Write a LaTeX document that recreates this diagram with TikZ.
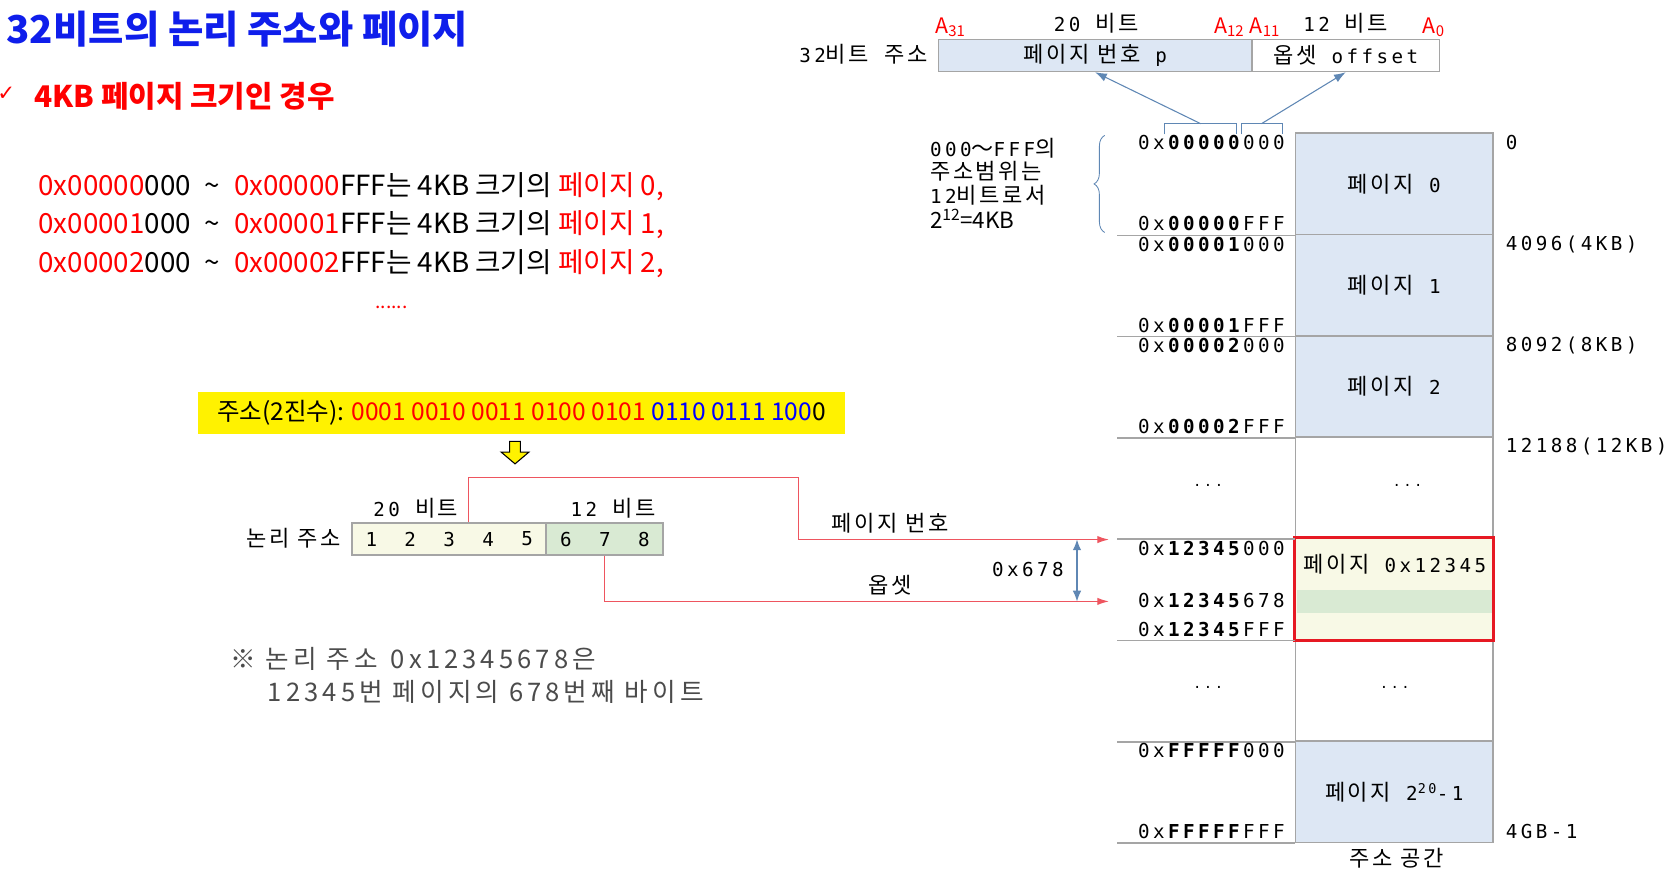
\documentclass[tikz,border=0pt]{standalone}
\usepackage{fontspec}
\setmainfont{Noto Sans CJK KR}
\newfontfamily\mono{DejaVu Sans Mono}[LetterSpace=18]
\newfontfamily\krs{Noto Sans CJK KR}[Scale=1.15,LetterSpace=12]
\newfontfamily\krn{Noto Sans CJK KR}[LetterSpace=16]
\newfontfamily\symb{DejaVu Sans}
\usetikzlibrary{calc,arrows.meta,decorations.pathreplacing}

\definecolor{pgblue}{RGB}{221,231,244}
\definecolor{pgyellow}{RGB}{248,249,230}
\definecolor{pggreen}{RGB}{217,234,211}
\definecolor{cellgray}{RGB}{165,165,165}
\definecolor{steel}{RGB}{95,135,180}
\definecolor{ttlblue}{RGB}{15,30,235}
\definecolor{lnred}{RGB}{238,85,95}
\definecolor{hlred}{RGB}{230,25,35}
\definecolor{notegray}{RGB}{75,75,75}

\tikzset{
  mtxt/.style={font=\mono\fontsize{18}{21}\selectfont, inner sep=0pt},
  adr/.style={mtxt, anchor=east},
  offs/.style={mtxt, anchor=west},
  dots/.style={font=\mono\fontsize{13}{15}\selectfont, inner sep=0pt},
  page/.style={mtxt, draw=cellgray, line width=1.5pt, minimum width=185pt, minimum height=95pt},
  sep/.style={draw=cellgray, line width=1.5pt},
  field/.style={mtxt, draw=cellgray, line width=1.5pt, minimum height=30pt},
  alab/.style={text=red, font=\fontsize{20}{22}\selectfont, inner sep=0pt, anchor=base west},
  rng/.style={font=\fontsize{26}{30}\selectfont, inner sep=0pt, anchor=west},
  redline/.style={draw=lnred, line width=1.2pt, -{Latex[length=11pt,width=7pt]}},
  bluearrow/.style={draw=steel, line width=1pt, -{Latex[length=11pt,width=8pt]}},
}
\newcommand{\adr}[2]{0x\textbf{#1}#2}

\begin{document}
\begin{tikzpicture}[x=1pt,y=-1pt]
\useasboundingbox (0,0) rectangle (1568,818);

% titles
\node[anchor=west, inner sep=0pt, text=ttlblue, font=\bfseries\fontsize{36}{42}\selectfont] (title) at (6,27) {32비트의 논리 주소와 페이지};
\node[text=red, inner sep=0pt, font=\symb\fontsize{20}{22}\selectfont] (tick) at (6,88) {✓};
\node[anchor=west, inner sep=0pt, text=red, font=\bfseries\fontsize{28}{32}\selectfont] (subttl) at (32,90) {4KB 페이지 크기인 경우};

\node[rng] (rng0) at (36,175) {\textcolor{red}{0x00000}000\enspace\textasciitilde\enspace\textcolor{red}{0x00000}FFF는 4KB 크기의 \textcolor{red}{페이지 0,}};
\node[rng] (rng1) at (36,211) {\textcolor{red}{0x00001}000\enspace\textasciitilde\enspace\textcolor{red}{0x00001}FFF는 4KB 크기의 \textcolor{red}{페이지 1,}};
\node[rng] (rng2) at (36,247) {\textcolor{red}{0x00002}000\enspace\textasciitilde\enspace\textcolor{red}{0x00002}FFF는 4KB 크기의 \textcolor{red}{페이지 2,}};
\node[text=red, inner sep=0pt, font=\fontsize{18}{20}\selectfont] (more) at (367,288) {......};

% binary address
\node[fill=yellow, minimum width=606pt, minimum height=39pt, inner sep=0pt, font=\fontsize{23}{28}\selectfont] (bin) at (489,387.5)
  {주소(2진수): \textcolor{red}{0001 0010 0011 0100 0101} \textcolor{blue}{0110 0111 100}0};
\draw[line width=1pt, fill=yellow, line join=miter] (478,414) -- (488,414) -- (488,424) -- (496,424) -- (483,435) -- (470,424) -- (478,424) -- cycle;

% logical address
\node[field, fill=pgyellow, minimum width=182pt] (lpage) at (421,505.5) {};
\node[field, fill=pggreen, minimum width=110pt] (loff) at (567,505.5) {};
\foreach \i in {1,...,8}
  \node[mtxt] (n\i) at ({330+36.5*(\i-0.5)},505.5) {\i};
\node[mtxt, anchor=east] (laddr) at (320,505) {\krs 논리 주소};
\node[mtxt] (l20) at (390,477) {20 {\krs 비트}};
\node[mtxt] (l12) at (575,477) {12 {\krs 비트}};

% top 32 bit fields
\node[mtxt, anchor=east] (a32) at (870,51) {32{\krs 비트} {\krs 주소}};
\node[field, fill=pgblue, minimum width=294pt] (pbox) at (1027,52) {{\krs 페이지 번호} p};
\node[field, fill=white, minimum width=176pt] (obox) at (1262,52) {{\krs 옵셋} offset};
\node[mtxt] (t20) at (1028,22) {20 {\krs 비트}};
\node[mtxt] (t12) at (1262,22) {12 {\krs 비트}};
\node[alab] (a31) at (877,31) {A\textsubscript{31}};
\node[alab, anchor=base east] (a12) at (1167,31) {A\textsubscript{12}};
\node[alab] (a11) at (1172,31) {A\textsubscript{11}};
\node[alab, anchor=base east] (a0) at (1355,31) {A\textsubscript{0}};

% address space
\node[page, fill=pgblue] (pg0) at (1307.5,172.5) {{\krs 페이지} 0};
\node[page, fill=pgblue] (pg1) at (1307.5,267.5) {{\krs 페이지} 1};
\node[page, fill=pgblue] (pg2) at (1307.5,362.5) {{\krs 페이지} 2};
\node[page] (gap1) at (1307.5,457.5) {};
\node[page, fill=pgyellow] (pgx) at (1307.5,552.5) {};
\fill[pggreen] (1216,553) rectangle (1399,575);
\node[page] (gap2) at (1307.5,647.5) {};
\node[page, fill=pgblue] (pglast) at (1307.5,742.5) {{\krs 페이지} 2\textsuperscript{20}-1};
\draw[hlred, line width=3pt] (pgx.north west) rectangle (pgx.south east);
\node[mtxt] (pgxlbl) at (1308,529) {{\krs 페이지} 0x12345};
\node[dots] (dots1) at (1320,455) {...};
\node[dots] (dots2) at (1308,645) {...};
\node[dots] (dots3) at (1133,455) {...};
\node[dots] (dots4) at (1133,645) {...};
\foreach \n in {pg0,pg1,pg2,gap1,pgx,gap2,pglast}
  \draw[sep] (\n.south west) -- ++(-167,0);
\node[mtxt] (space) at (1310,805) {\krs 주소 공간};

\node[adr] (s0) at (1205,134) {\adr{00000}{000}};
\node[adr] (e0) at (1205,210) {\adr{00000}{FFF}};
\node[adr] (s1) at (1205,229) {\adr{00001}{000}};
\node[adr] (e1) at (1205,305) {\adr{00001}{FFF}};
\node[adr] (s2) at (1205,324) {\adr{00002}{000}};
\node[adr] (e2) at (1205,400) {\adr{00002}{FFF}};
\node[adr] (sx) at (1205,514) {\adr{12345}{000}};
\node[adr] (mx) at (1205,563) {\adr{12345}{678}};
\node[adr] (ex) at (1205,590) {\adr{12345}{FFF}};
\node[adr] (sl) at (1205,704) {\adr{FFFFF}{000}};
\node[adr] (el) at (1205,780) {\adr{FFFFF}{FFF}};

\node[offs] (o0) at (1412,134) {0};
\node[offs] (o1) at (1412,229) {4096(4KB)};
\node[offs] (o2) at (1412,324) {8092(8KB)};
\node[offs] (o3) at (1412,419) {12188(12KB)};
\node[offs] (o4) at (1412,780) {4GB-1};

% brackets, brace and arrows to the fields
\draw[steel, line width=1pt] (1092,126) |- (1160,116) -- (1160,126);
\draw[steel, line width=1pt] (1164,126) |- (1203,116) -- (1203,126);
\coordinate (br1) at (1126,116);
\coordinate (br2) at (1183,116);
\draw[bluearrow] (br1) -- (pbox.south);
\draw[bluearrow] (br2) -- (obox.south);
\draw[steel, line width=0.8pt, decorate, decoration={brace, amplitude=10pt}] (1036,218) -- (1036,127);
\node[mtxt, anchor=west] (rt1) at (872,139) {000{\krs ～}FFF{\krs 의}};
\node[mtxt, anchor=west] (rt2) at (872,161) {\krs 주소범위는};
\node[mtxt, anchor=west] (rt3) at (872,183) {12{\krs 비트로서}};
\node[anchor=west, inner sep=0pt, font=\fontsize{21}{24}\selectfont] (rt4) at (872,205) {2\textsuperscript{12}=4KB};

% page number and offset
\coordinate (pgsrc) at ($(lpage.north west)!0.6!(lpage.north east)$);
\coordinate (pgbend) at (749,448);
\coordinate (pgdst) at (1040,506);
\coordinate (offdst) at (1040,564);
\draw[redline] (pgsrc) |- (pgbend) |- (pgdst);
\draw[redline] (loff.south) |- (offdst);
\node[mtxt] (pglbl) at (835,491) {\krs 페이지 번호};
\node[mtxt] (offlbl) at (835,549) {\krs 옵셋};
\coordinate (dtop) at (1010,506);
\coordinate (dbot) at (1010,564);
\draw[steel, line width=1pt, {Latex[length=10pt,width=8pt]}-{Latex[length=10pt,width=8pt]}] (dtop) -- (dbot);
\node[mtxt] (dlbl) at (964,534) {0x678};

% note
\node[anchor=west, inner sep=0pt, text=notegray, font=\krn\fontsize{24}{28}\selectfont] (note1) at (216,618) {※ 논리 주소\enspace 0x12345678은};
\node[anchor=west, inner sep=0pt, text=notegray, font=\krn\fontsize{24}{28}\selectfont] (note2) at (251,649) {12345번 페이지의 678번째 바이트};
\end{tikzpicture}
\end{document}
